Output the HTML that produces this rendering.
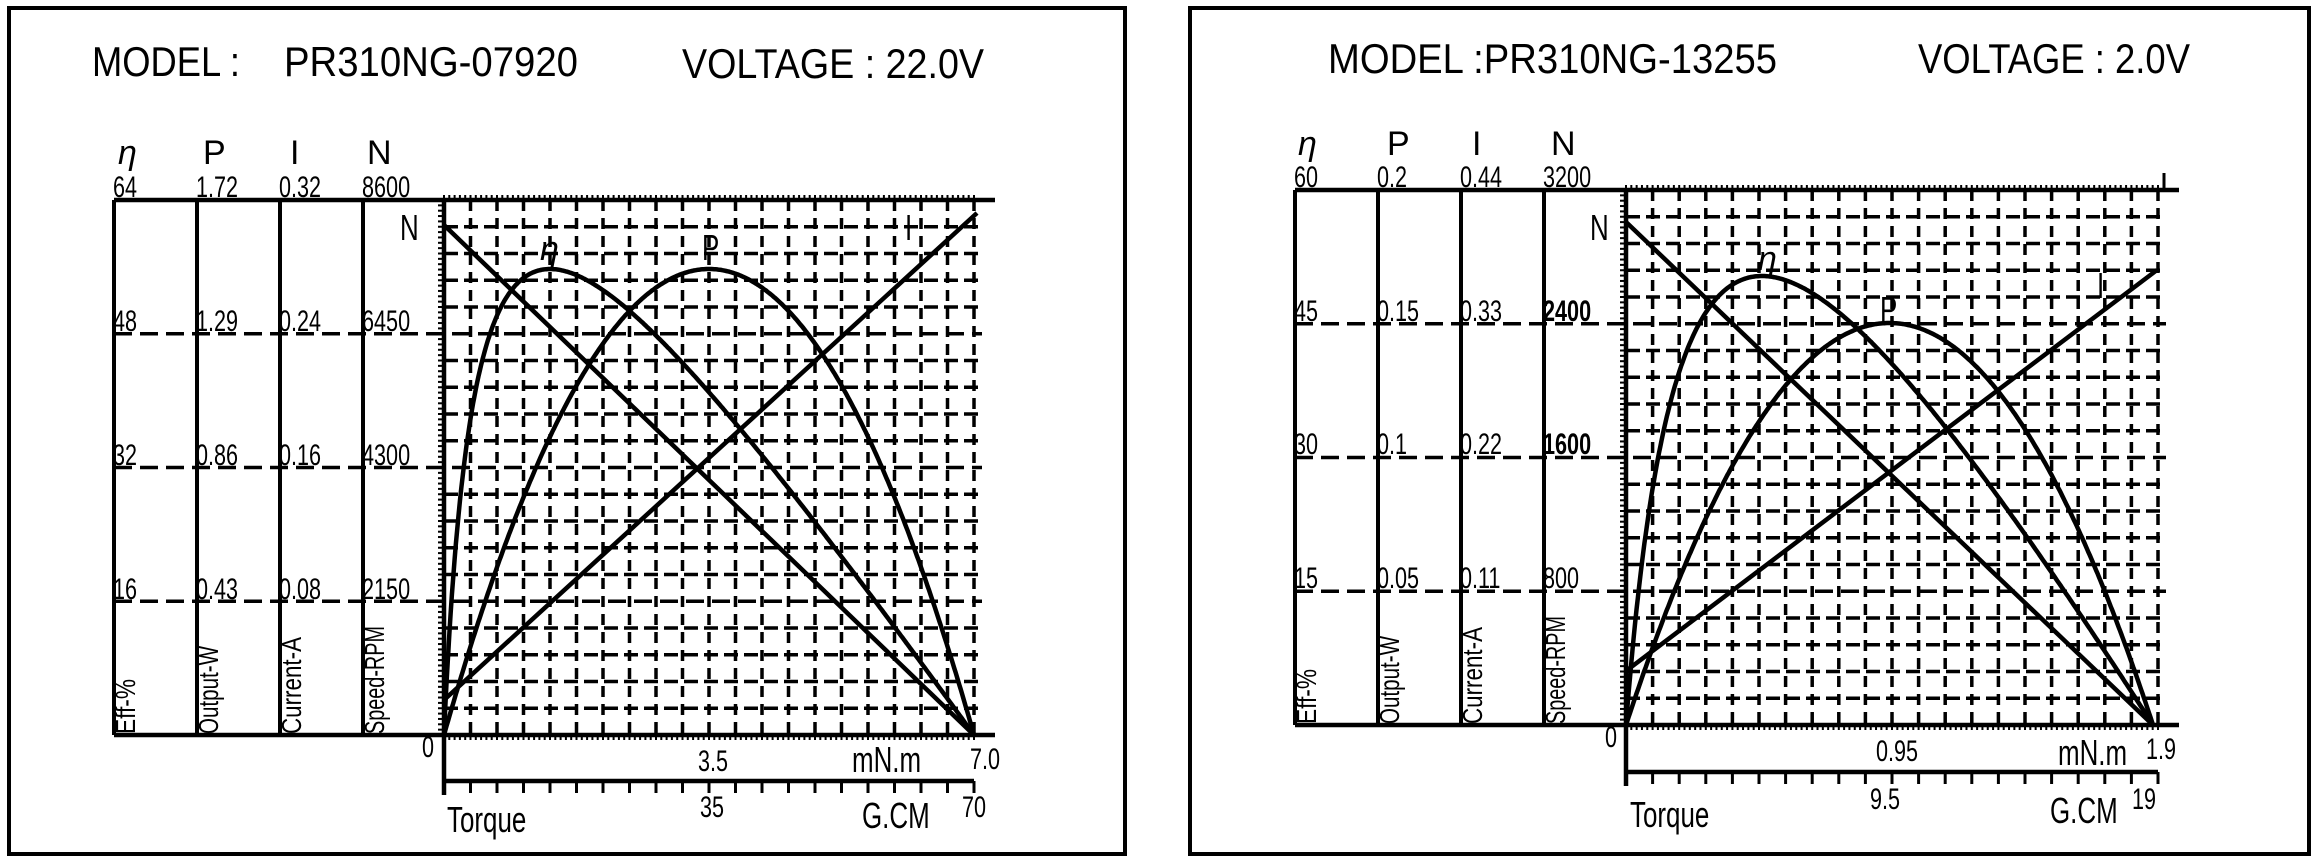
<!DOCTYPE html>
<html><head><meta charset="utf-8">
<style>
html,body{margin:0;padding:0;background:#fff;}
svg{display:block;}
text{font-family:"Liberation Sans Narrow","Liberation Sans",sans-serif;fill:#000;}
</style></head>
<body>
<svg id="s" width="2316" height="861" viewBox="0 0 2316 861" xmlns="http://www.w3.org/2000/svg">
<rect x="0" y="0" width="2316" height="861" fill="#fff"/>
<rect x="9" y="8" width="1116" height="846" fill="none" stroke="#000" stroke-width="4"/>
<rect x="1190" y="8" width="1119" height="846" fill="none" stroke="#000" stroke-width="4"/>
<g id="g"></g>
<!-- Left panel text -->
<g font-size="42">
<text x="92" y="76" textLength="148" lengthAdjust="spacingAndGlyphs">MODEL :</text>
<text x="284" y="76" textLength="294" lengthAdjust="spacingAndGlyphs">PR310NG-07920</text>
<text x="682" y="78" textLength="302" lengthAdjust="spacingAndGlyphs">VOLTAGE : 22.0V</text>
</g>
<g font-size="34">
<text x="118" y="164" font-style="italic" font-family="Liberation Serif">η</text>
<text x="203" y="164">P</text>
<text x="290" y="164">I</text>
<text x="367" y="164">N</text>
</g>
<g font-size="30" class="c">
<text x="113" y="197">64</text><text x="196" y="197">1.72</text><text x="279" y="197">0.32</text><text x="362" y="197">8600</text>
<text x="113" y="331">48</text><text x="196" y="331">1.29</text><text x="279" y="331">0.24</text><text x="362" y="331">6450</text>
<text x="113" y="465">32</text><text x="196" y="465">0.86</text><text x="279" y="465">0.16</text><text x="362" y="465">4300</text>
<text x="113" y="599">16</text><text x="196" y="599">0.43</text><text x="279" y="599">0.08</text><text x="362" y="599">2150</text>
<text x="422" y="757">0</text>
<text x="698" y="771">3.5</text>
<text x="970" y="769">7.0</text>
<text x="700" y="817">35</text>
<text x="962" y="817">70</text>
</g>
<g font-size="28">
<text transform="translate(135,734) rotate(-90)" textLength="55" lengthAdjust="spacingAndGlyphs">Eff-%</text>
<text transform="translate(218,734) rotate(-90)" textLength="88" lengthAdjust="spacingAndGlyphs">Output-W</text>
<text transform="translate(301,734) rotate(-90)" textLength="97" lengthAdjust="spacingAndGlyphs">Current-A</text>
<text transform="translate(384,734) rotate(-90)" textLength="108" lengthAdjust="spacingAndGlyphs">Speed-RPM</text>
</g>
<g font-size="36" class="c">
<text x="400" y="240">N</text>
<text x="702" y="260">P</text>
<text x="905" y="240">I</text>
<text x="852" y="772">mN.m</text>
<text x="447" y="832">Torque</text>
<text x="862" y="828">G.CM</text>
</g>
<text x="540" y="260" font-size="34" font-style="italic" font-family="Liberation Serif">η</text>
<!-- Right panel text -->
<g font-size="42">
<text x="1328" y="73" textLength="449" lengthAdjust="spacingAndGlyphs">MODEL :PR310NG-13255</text>
<text x="1918" y="73" textLength="272" lengthAdjust="spacingAndGlyphs">VOLTAGE : 2.0V</text>
</g>
<g font-size="34">
<text x="1298" y="155" font-style="italic" font-family="Liberation Serif">η</text>
<text x="1387" y="155">P</text>
<text x="1472" y="155">I</text>
<text x="1551" y="155">N</text>
</g>
<g font-size="30" class="c">
<text x="1294" y="187">60</text><text x="1377" y="187">0.2</text><text x="1460" y="187">0.44</text><text x="1543" y="187">3200</text>
<text x="1294" y="321">45</text><text x="1377" y="321">0.15</text><text x="1460" y="321">0.33</text><text x="1543" y="321" font-weight="bold">2400</text>
<text x="1294" y="454">30</text><text x="1377" y="454">0.1</text><text x="1460" y="454">0.22</text><text x="1543" y="454" font-weight="bold">1600</text>
<text x="1294" y="588">15</text><text x="1377" y="588">0.05</text><text x="1460" y="588">0.11</text><text x="1543" y="588">800</text>
<text x="1605" y="747">0</text>
<text x="1876" y="761">0.95</text>
<text x="2146" y="759">1.9</text>
<text x="1870" y="809">9.5</text>
<text x="2132" y="809">19</text>
</g>
<g font-size="28">
<text transform="translate(1316,724) rotate(-90)" textLength="55" lengthAdjust="spacingAndGlyphs">Eff-%</text>
<text transform="translate(1399,724) rotate(-90)" textLength="88" lengthAdjust="spacingAndGlyphs">Output-W</text>
<text transform="translate(1482,724) rotate(-90)" textLength="97" lengthAdjust="spacingAndGlyphs">Current-A</text>
<text transform="translate(1565,724) rotate(-90)" textLength="108" lengthAdjust="spacingAndGlyphs">Speed-RPM</text>
</g>
<g font-size="36" class="c">
<text x="1590" y="240">N</text>
<text x="1880" y="322">P</text>
<text x="2097" y="298">I</text>
<text x="2058" y="765">mN.m</text>
<text x="1630" y="827">Torque</text>
<text x="2050" y="823">G.CM</text>
</g>
<text x="1758" y="270" font-size="34" font-style="italic" font-family="Liberation Serif">η</text>
</svg>
<script>
var NS="http://www.w3.org/2000/svg",g=document.getElementById("g");
function el(n,a){var e=document.createElementNS(NS,n);for(var k in a)e.setAttribute(k,a[k]);g.appendChild(e);return e;}
function line(x1,y1,x2,y2,w,da){var a={x1:x1,y1:y1,x2:x2,y2:y2,stroke:"#000","stroke-width":w};if(da)a["stroke-dasharray"]=da;el("line",a);}
function panel(p){
 var L=p.L,R=p.R,T=p.T,B=p.B,dx=(R-L)/20,dy=(B-T)/20,i,j;
 for(i=1;i<=20;i++){var x=L+i*dx;line(x,T,x,B,3.5,"11 7");}
 for(j=1;j<20;j++){var y=T+j*dy;if(j%5==0)continue;line(L,y,R+8,y,3.5,"14 6");}
 for(j=1;j<4;j++){var y=T+j*5*dy;line(p.cx[0],y,R+8,y,3.5,"18 8");}
 p.cx.forEach(function(x){line(x,T,x,B,4);});
 line(p.cx[0],T,p.AR,T,4.5);
 line(p.cx[0],B,p.AR,B,4.5);
 line(L,T,L,p.y2+14,4.5);
 for(i=0;i<=100;i++){var x=L+i*dx/5;line(x,T,x,T-5,2);line(x,B,x,B+5,2);}
 for(j=0;j<=100;j++){var y=T+j*dy/5;line(L,y,L-6,y,2);}
 line(L,p.y2,R,p.y2,4.5);
 for(i=0;i<=20;i++){var x=L+i*dx;line(x,p.y2,x,p.y2+12,3);}
 line(L,p.n0,p.E,B,4.5);
 line(L,p.i0,p.iX,p.i1,4.5);
 var a=p.a,ts=Math.sqrt(a*(1+a))-a,fm=ts*(1-ts)/(ts+a);
 var d1="",d2="";
 for(i=0;i<=400;i++){var t=i/400,x=L+t*(p.E-L);
  var f=t*(1-t)/(t+a)/fm;d1+=(i?"L":"M")+x.toFixed(1)+" "+(B-p.He*f).toFixed(1);
  d2+=(i?"L":"M")+x.toFixed(1)+" "+(B-p.Hp*4*t*(1-t)).toFixed(1);}
 el("path",{d:d1,fill:"none",stroke:"#000","stroke-width":4.5});
 el("path",{d:d2,fill:"none",stroke:"#000","stroke-width":4.5});
}
panel({L:444,R:974,T:200,B:735,AR:995,cx:[114,197,280,363],y2:781,n0:225,E:974,i0:700,iX:977,i1:213,a:0.0667,He:466,Hp:466});
panel({L:1626,R:2158,T:190,B:725,AR:2179,cx:[1295,1378,1461,1544],y2:772,n0:222,E:2153,i0:671,iX:2157,i1:270,a:0.1376,He:449,Hp:402});
line(2164,190,2164,173,3);
var cs=document.querySelectorAll("g.c text");
for(var k=0;k<cs.length;k++){var t=cs[k];var w=t.getComputedTextLength();t.setAttribute("textLength",(w*0.72).toFixed(1));t.setAttribute("lengthAdjust","spacingAndGlyphs");}
</script>
</body></html>
